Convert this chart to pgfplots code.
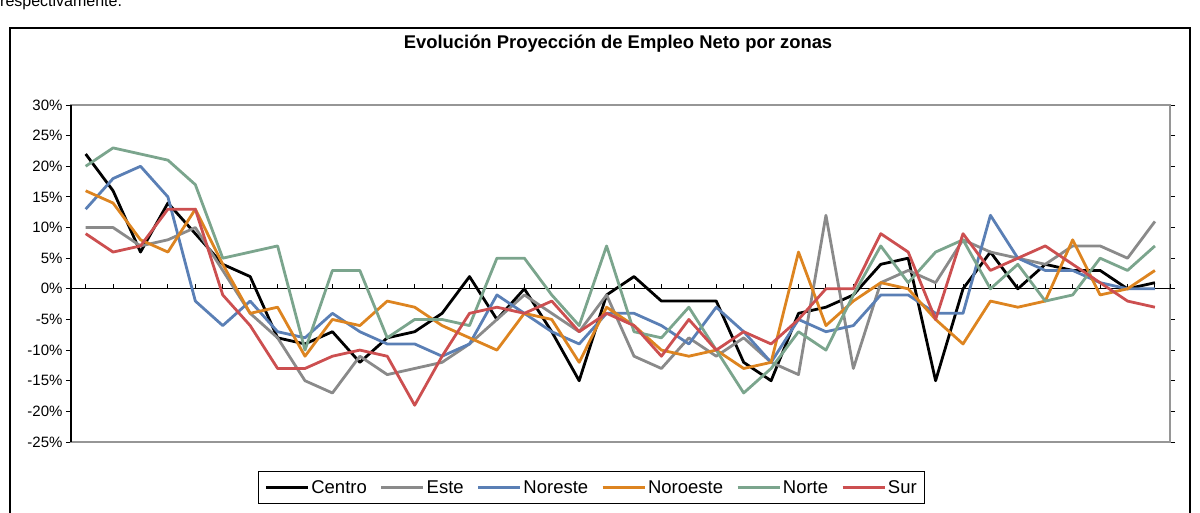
\documentclass[border=0pt]{standalone}
\usepackage{pgfplots}
\usepackage{pgfplotstable}
\pgfplotsset{compat=1.18}
\usepackage{fontspec}
\setmainfont{Liberation Sans}
\definecolor{cCentro}{RGB}{0,0,0}
\definecolor{cEste}{RGB}{138,138,138}
\definecolor{cNoreste}{RGB}{90,127,181}
\definecolor{cNoroeste}{RGB}{221,132,32}
\definecolor{cNorte}{RGB}{123,165,141}
\definecolor{cSur}{RGB}{204,79,80}
\definecolor{frame}{RGB}{150,150,150}

\pgfplotstableread{
i  C    E    NE   NO   N    S
0  22   10   13   16   20   9
1  16   10   18   14   23   6
2  6    7    20   8    22   7
3  14   8    15   6    21   13
4  9    10   -2   13   17   13
5  4    3    -6   4    5    -1
6  2    -4   -2   -4   6    -6
7  -8   -8   -7   -3   7    -13
8  -9   -15  -8   -11  -10  -13
9  -7   -17  -4   -5   3    -11
10 -12  -11  -7   -6   3    -10
11 -8   -14  -9   -2   -8   -11
12 -7   -13  -9   -3   -5   -19
13 -4   -12  -11  -6   -5   -11
14 2    -9   -9   -8   -6   -4
15 -5   -5   -1   -10  5    -3
16 0    -1   -4   -4   5    -4
17 -7   -4   -7   -5   -1   -2
18 -15  -7   -9   -12  -6   -7
19 -1   -1   -4   -3   7    -4
20 2    -11  -4   -6   -7   -6
21 -2   -13  -6   -10  -8   -11
22 -2   -8   -9   -11  -3   -5
23 -2   -11  -3   -10  -10  -10
24 -12  -8   -7   -13  -17  -7
25 -15  -12  -12  -12  -13  -9
26 -4   -14  -5   6    -7   -5
27 -3   12   -7   -6   -10  0
28 -1   -13  -6   -2   -1   0
29 4    1    -1   1    7    9
30 5    3    -1   0    1    6
31 -15  1    -4   -5   6    -5
32 0    8    -4   -9   8    9
33 6    6    12   -2   0    3
34 0    5    5    -3   4    5
35 4    4    3    -2   -2   7
36 3    7    3    8    -1   4
37 3    7    1    -1   5    1
38 0    5    0    0    3    -2
39 1    11   0    3    7    -3
}\datatable

\begin{document}
\begin{tikzpicture}[x=1pt,y=1pt]
\useasboundingbox (0,0) rectangle (1200,512);
\clip (0,0) rectangle (1200,512);
\node[anchor=base west, font=\fontsize{16}{18}\selectfont, inner sep=0] at (0,505) {respectivamente.};
\draw[line width=1.2pt] (10,484) rectangle (1190,-20);
\node[font=\bfseries\fontsize{18.4}{20}\selectfont, anchor=base, inner sep=0] at (618,463) {Evolución Proyección de Empleo Neto por zonas};
\begin{axis}[
  at={(71pt,70pt)}, anchor=south west,
  scale only axis, width=1099pt, height=337pt,
  xmin=-0.535, xmax=39.55, ymin=-25, ymax=30,
  xtick=\empty,
  ytick={-25,-20,...,30},
  yticklabel={\pgfmathprintnumber{\tick}\%},
  /pgf/number format/assume math mode=true,
  ticklabel style={font=\fontsize{15}{15}\selectfont},
  axis line style={draw=frame, line width=1.5pt},
  tick align=outside, major tick length=5pt,
  ytick style={black, line width=1pt},
  clip=false,
  legend columns=6,
  legend image code/.code={\draw[#1] (0pt,0pt) -- (42pt,0pt);},
  legend style={at={(0.1702,-0.0861)}, anchor=north west, draw=black, line width=1pt,
    font=\fontsize{18.5}{20}\selectfont, inner xsep=6pt, inner ysep=7pt,
    /tikz/every even column/.append style={column sep=11pt},
    nodes={inner xsep=2pt}},
  every axis plot/.append style={line width=2.8pt, line join=round},
]
\draw[black, line width=1.2pt] (axis cs:-0.535,0) -- (axis cs:39.55,0);
\pgfplotsinvokeforeach{0,...,39}{\draw[black, line width=1pt] (axis cs:#1,0) -- (axis cs:#1,0.8);}
\draw[black, line width=1pt] (axis cs:39.55,0) -- (axis cs:39.55,0.8);
\draw[black, line width=1.5pt] (axis cs:-0.535,-25) -- (axis cs:-0.535,30);
\addplot[cCentro] table[x=i,y=C] {\datatable};
\addlegendentry{Centro}
\addplot[cEste] table[x=i,y=E] {\datatable};
\addlegendentry{Este}
\addplot[cNoreste] table[x=i,y=NE] {\datatable};
\addlegendentry{Noreste}
\addplot[cNoroeste] table[x=i,y=NO] {\datatable};
\addlegendentry{Noroeste}
\addplot[cNorte] table[x=i,y=N] {\datatable};
\addlegendentry{Norte}
\addplot[cSur] table[x=i,y=S] {\datatable};
\addlegendentry{Sur}
\end{axis}
\end{tikzpicture}
\end{document}
